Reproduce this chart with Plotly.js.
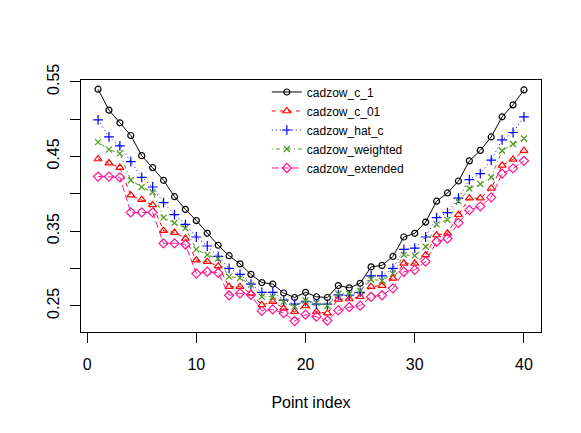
<!DOCTYPE html>
<html>
<head>
<meta charset="utf-8">
<script src="https://cdn.plot.ly/plotly-3.0.1.min.js"></script>
<style>html,body{margin:0;padding:0;background:#fff;}#chart{width:581px;height:433px;}</style>
</head>
<body>
<div id="chart"></div>
<script>
var pointIndex = [];
for (var k = 1; k <= 40; k++) pointIndex.push(k);

var seriesNames = ["cadzow_c_1", "cadzow_c_01", "cadzow_hat_c", "cadzow_weighted", "cadzow_extended"];

var cadzow_c_1 = [0.540,0.512,0.495,0.478,0.451,0.435,0.418,0.396,0.379,0.364,
  0.347,0.331,0.317,0.306,0.292,0.281,0.279,0.267,0.261,0.268,
  0.262,0.261,0.277,0.274,0.280,0.302,0.304,0.316,0.342,0.347,
  0.362,0.390,0.401,0.417,0.444,0.458,0.476,0.503,0.519,0.539];

var cadzow_c_01 = [0.4465,0.441,0.435,0.398,0.392,0.385,0.3505,0.348,0.340,0.311,
  0.309,0.303,0.2755,0.2755,0.2666,0.251,0.2554,0.2465,0.242,0.2496,
  0.242,0.240,0.2586,0.259,0.262,0.2755,0.277,0.2867,0.3068,0.3068,
  0.318,0.3447,0.347,0.372,0.394,0.394,0.407,0.438,0.446,0.4576];

var cadzow_hat_c = [0.499,0.476,0.464,0.443,0.422,0.409,0.388,0.372,0.359,0.342,
  0.330,0.316,0.300,0.292,0.279,0.268,0.268,0.2576,0.252,0.256,
  0.252,0.252,0.2645,0.264,0.268,0.290,0.290,0.300,0.3255,0.327,
  0.342,0.368,0.3746,0.394,0.419,0.427,0.445,0.472,0.482,0.503];

var cadzow_weighted = [0.469,0.459,0.454,0.418,0.409,0.402,0.368,0.361,0.354,0.3255,
  0.318,0.313,0.289,0.287,0.278,0.262,0.262,0.2554,0.249,0.257,
  0.254,0.250,0.266,0.266,0.270,0.2854,0.2835,0.293,0.318,0.317,
  0.329,0.359,0.365,0.390,0.407,0.413,0.422,0.4576,0.4666,0.474];

var cadzow_extended = [0.423,0.423,0.422,0.375,0.375,0.375,0.3336,0.3336,0.332,0.293,
  0.2955,0.294,0.264,0.2666,0.2645,0.243,0.245,0.240,0.2295,0.238,
  0.2353,0.230,0.2437,0.248,0.250,0.262,0.264,0.2733,0.2955,0.298,
  0.309,0.3357,0.340,0.361,0.378,0.383,0.395,0.427,0.434,0.444];

var xTickVals = [0, 10, 20, 30, 40];
var xTickText = ["0", "10", "20", "30", "40"];
var yTickVals = [0.25, 0.30, 0.35, 0.40, 0.45, 0.50, 0.55];
var yTickText = ["0.25", "", "0.35", "", "0.45", "", "0.55"];

var allSeries = [cadzow_c_1, cadzow_c_01, cadzow_hat_c, cadzow_weighted, cadzow_extended];
var colors = ["#000000", "#FF0000", "#0000FF", "#4E9A1E", "#FF1493"];
var dashes = ["solid", "4px,4px", "1px,3px", "1px,3px,4px,3px", "7px,3px"];
var symbols = ["circle-open", "triangle-up-open", "cross-thin-open", "x-thin-open", "diamond-open"];
var sizes = [6, 7, 7, 6, 7];

var traces = allSeries.map(function (ys, i) {
  return {
    x: pointIndex, y: ys, name: seriesNames[i],
    type: "scatter", mode: "lines+markers",
    line: {color: colors[i], width: 1, dash: dashes[i]},
    marker: {symbol: symbols[i], size: sizes[i], color: colors[i], line: {color: colors[i], width: 1.2}}
  };
});

var font = "Liberation Sans, Arial, Helvetica, sans-serif";
var layout = {
  width: 581, height: 433,
  margin: {l: 81, r: 40, t: 80, b: 101, pad: 0},
  paper_bgcolor: "#ffffff", plot_bgcolor: "#ffffff",
  font: {family: font, color: "#000000", size: 16},
  showlegend: true,
  legend: {
    x: 0.404, y: 1.01, xanchor: "left", yanchor: "top",
    bgcolor: "rgba(0,0,0,0)", borderwidth: 0,
    font: {family: font, size: 12, color: "#000000"}
  },
  xaxis: {
    range: [-0.56, 41.56], tickmode: "array", tickvals: xTickVals, ticktext: xTickText,
    ticks: "outside", ticklen: 10, tickwidth: 1, tickcolor: "#000",
    ticklabelstandoff: 8,
    showline: true, mirror: true, linecolor: "#000", linewidth: 1,
    showgrid: false, zeroline: false,
    tickfont: {family: font, size: 16},
    title: {text: "Point index", font: {family: font, size: 16}, standoff: 24}
  },
  yaxis: {
    range: [0.2148, 0.5523], tickmode: "array", tickvals: yTickVals, ticktext: yTickText,
    tickangle: -90,
    ticks: "outside", ticklen: 10, tickwidth: 1, tickcolor: "#000",
    ticklabelstandoff: 5,
    showline: true, mirror: true, linecolor: "#000", linewidth: 1,
    showgrid: false, zeroline: false,
    tickfont: {family: font, size: 16}
  }
};

Plotly.newPlot("chart", traces, layout, {displayModeBar: false, staticPlot: true});
</script>
</body>
</html>
